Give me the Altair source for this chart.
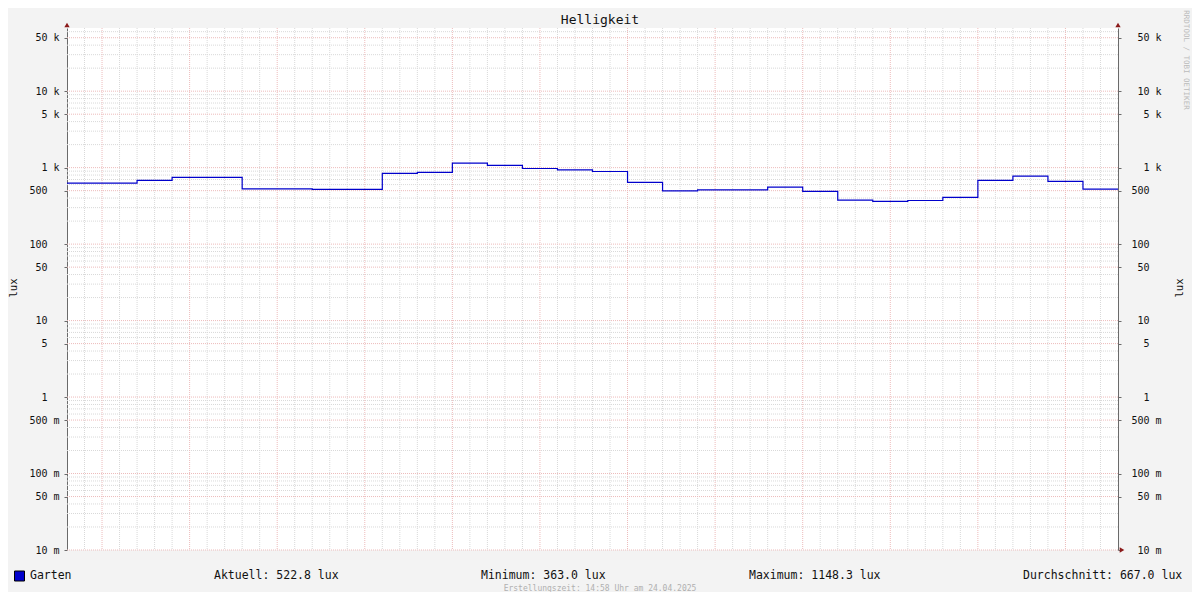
import altair as alt
import pandas as pd

MONO = "DejaVu Sans Mono"

# ---- data ----
times = ["13:58", "14:00", "14:02", "14:04", "14:06", "14:08", "14:10", "14:12",
         "14:14", "14:16", "14:18", "14:20", "14:22", "14:24", "14:26", "14:28",
         "14:30", "14:32", "14:34", "14:36", "14:38", "14:40", "14:42", "14:44",
         "14:46", "14:48", "14:50", "14:52", "14:54", "14:56"]
lux = [627, 627, 680, 745, 745, 528, 528, 519, 519, 839, 865, 1148, 1069, 975,
       935, 891, 640, 498, 513, 513, 556, 489, 376, 363, 372, 408, 680, 774, 661, 523]
end_time = "14:58"

series_name = "Garten"
stat_names = ["Aktuell", "Minimum", "Maximum", "Durchschnitt"]
stat_values = [522.8, 363.0, 1148.3, 667.0]
unit = "lux"
title_text = "Helligkeit"
footer_text = "Erstellungszeit: 14:58 Uhr am 24.04.2025"
watermark_text = "RRDTOOL / TOBI OETIKER"

y_major = [0.01, 0.05, 0.1, 0.5, 1, 5, 10, 50, 100, 500, 1000, 5000, 10000, 50000]
y_labels = ["  10 m", "  50 m", " 100 m", " 500 m", "   1  ", "   5  ", "  10  ",
            "  50  ", " 100  ", " 500  ", "   1 k", "   5 k", "  10 k", "  50 k"]
y_decades = [0.01, 0.1, 1, 10, 100, 1000, 10000]
y_minor_mult = [2, 3, 4, 6, 7, 8, 9]
y_domain = [0.01, 67000]

x_domain = [-2, 58]          # minutes relative to 14:00
x_major = list(range(0, 56, 5))

# ---- derived tables ----
def to_min(t):
    h, m = t.split(":")
    return int(h) * 60 + int(m) - 14 * 60

line_df = pd.DataFrame({"m": [to_min(t) for t in times] + [to_min(end_time)],
                        "v": lux + [lux[-1]]})
x_minor = [m for m in range(x_domain[0] + 1, x_domain[1]) if m % 5 != 0]
y_minor = [k * d for d in y_decades for k in y_minor_mult if k * d <= y_domain[1]]

NB = "\u00a0"
ZW = "\u200b"   # keeps padded labels from being trimmed
label_map = ",".join("'%s':'%s'" % (str(v), ZW + l.replace(" ", NB) + ZW)
                     for v, l in zip(y_major, y_labels))
y_label_expr = "{%s}['' + datum.value]" % label_map
x_label_expr = "'14:' + (datum.value < 10 ? '0' : '') + datum.value"

xs = alt.Scale(domain=x_domain, nice=False, zero=False)
ys = alt.Scale(type="log", domain=y_domain, nice=False)

MINOR = "#D9D9D9"
MAJOR = "#EDBBBB"
AXIS = "#6A6A6A"

vminor = alt.Chart(pd.DataFrame({"m": x_minor})).mark_rule(
    color=MINOR, strokeDash=[1, 1], strokeWidth=1).encode(
    x=alt.X("m:Q", scale=xs, axis=None))
hminor = alt.Chart(pd.DataFrame({"v": y_minor})).mark_rule(
    color=MINOR, strokeDash=[1, 1], strokeWidth=1).encode(
    y=alt.Y("v:Q", scale=ys, axis=None))
vmajor = alt.Chart(pd.DataFrame({"m": x_major})).mark_rule(
    color=MAJOR, strokeDash=[1, 1], strokeWidth=1).encode(
    x=alt.X("m:Q", scale=xs, axis=None))
hmajor = alt.Chart(pd.DataFrame({"v": y_major})).mark_rule(
    color=MAJOR, strokeDash=[1, 1], strokeWidth=1).encode(
    y=alt.Y("v:Q", scale=ys, axis=alt.Axis(
        orient="right", values=y_major, labelExpr=y_label_expr, title=None,
        grid=False, labelAlign="left", labelPadding=4, tickSize=3,
        tickColor=AXIS, domainColor=AXIS, labelFont=MONO, labelFontSize=10,
        labelColor="#111111", labelBaseline="middle")))

line = alt.Chart(line_df).mark_line(
    interpolate="step-after", color="#0000CC", strokeWidth=1.2).encode(
    x=alt.X("m:Q", scale=xs, axis=alt.Axis(
        values=x_major, labelExpr=x_label_expr, title=None, grid=False,
        ticks=False, labelPadding=4, domainColor=AXIS, labelFont=MONO,
        labelFontSize=10, labelColor="#111111", labelFlush=False)),
    y=alt.Y("v:Q", scale=ys, axis=alt.Axis(
        orient="left", values=y_major, labelExpr=y_label_expr, title=None,
        grid=False, labelAlign="right", labelPadding=5, tickSize=3,
        tickColor=AXIS, domainColor=AXIS, labelFont=MONO, labelFontSize=10,
        labelColor="#111111", labelBaseline="middle")))


def txt(text, x, y, size=11.5, color="#111111", align="left", angle=0):
    return alt.Chart(pd.DataFrame({"t": [text]})).mark_text(
        align=align, baseline="middle", font=MONO, fontSize=size,
        color=color, angle=angle).encode(
        x=alt.value(x), y=alt.value(y), text="t:N")


def arrow(shape, x, y):
    return alt.Chart(pd.DataFrame({"a": [0]})).mark_point(
        shape=shape, filled=True, color="#8B1A1A", size=28, opacity=1).encode(
        x=alt.value(x), y=alt.value(y))


swatch = alt.Chart(pd.DataFrame({"s": [series_name]})).mark_square(
    size=100, fill="#0000CC", stroke="#000000", strokeWidth=1, opacity=1).encode(
    x=alt.value(-47.5), y=alt.value(548))

stat_x = [147, 414, 682, 956]
layers = [vminor, hminor, vmajor, hmajor, line,
          arrow("triangle-up", 0, -3), arrow("triangle-up", 1051, -3),
          arrow("triangle-right", 1055, 522),
          txt(title_text, 533, -8, size=13, align="center"),
          txt(unit, -53, 260, size=10.5, align="center", angle=270),
          txt(unit, 1113, 260, size=10.5, align="center", angle=270),
          txt(watermark_text, 1119, 32, size=7.5, color="#BBBBBB", align="center", angle=90),
          swatch,
          txt(series_name, -37, 548)]
for name, val, sx in zip(stat_names, stat_values, stat_x):
    layers.append(txt("%s: %.1f %s" % (name, val, unit), sx, 548))
layers.append(txt(footer_text, 533, 561, size=8, color="#B0B0B0", align="center"))

chart = alt.layer(*layers).resolve_axis(y="independent").properties(
    width=1051, height=522,
    autosize=alt.AutoSizeParams(type="none"),
    padding={"left": 59, "top": 20, "right": 74, "bottom": 42},
    background="#F3F3F3",
).configure_view(fill="white", stroke=None)

chart.save("out.html", embed_options={"renderer": "svg", "actions": False})
